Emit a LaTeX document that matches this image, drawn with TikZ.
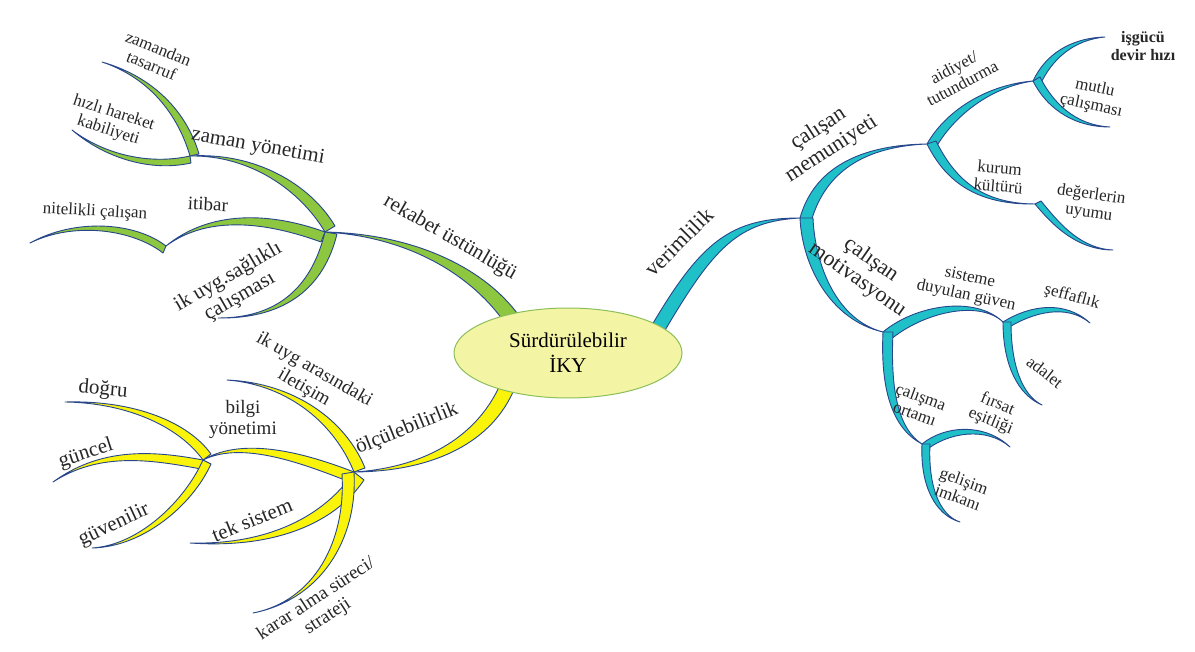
\documentclass[tikz,border=0pt]{standalone}
\usepackage{fontspec}
\setmainfont{Liberation Serif}
\usetikzlibrary{shapes.geometric,calc}
\definecolor{gruen}{RGB}{141,198,63}
\definecolor{gelb}{RGB}{250,244,10}
\definecolor{tuerkis}{RGB}{32,192,200}
\definecolor{rand}{RGB}{40,70,140}
\definecolor{kern}{RGB}{244,244,165}
\definecolor{kernrand}{RGB}{140,190,90}
\tikzset{
  zweig/.style={draw=rand,line width=0.9pt,line join=round},
  lbl/.style={text=black!85,align=center,inner sep=0pt},
  fgross/.style={font=\fontsize{22}{24}\selectfont},
  fhaupt/.style={font=\fontsize{21}{23}\selectfont},
  fmittel/.style={font=\fontsize{19}{21}\selectfont},
  fklein/.style={font=\fontsize{17}{18}\selectfont},
  fmini/.style={font=\fontsize{15}{16}\selectfont}
}
% Ast: Farbe, Start, Kontrollpunkte, Spitze, Dicke am Start
\newcommand{\zweig}[6]{%
  \filldraw[zweig,fill=#1] (#2) .. controls (#3) and (#4) .. (#5)
    .. controls ($(#4)+0.5*(#6)$) and ($(#3)+(#6)$) .. ($(#2)+(#6)$) -- cycle;}
\begin{document}
\begin{tikzpicture}[x=1pt,y=-1pt]
\useasboundingbox (0,0) rectangle (1195,652);
% Knotenpunkte
\coordinate (iky-g) at (522,320); \coordinate (iky-y) at (500,385); \coordinate (iky-v) at (652,325);
\coordinate (g) at (325,232); \coordinate (gz) at (190,156); \coordinate (gi) at (166,246);
\coordinate (y) at (354,472); \coordinate (yb) at (203,460);
\coordinate (v) at (800,218); \coordinate (vm) at (927,144); \coordinate (va) at (1033,81);
\coordinate (vk) at (1035,204); \coordinate (vd) at (883,332); \coordinate (vs) at (1003,322);
\coordinate (vf) at (922,444);
% Spitzen
\coordinate (t-tasarruf) at (102,62); \coordinate (t-hizli) at (72,130);
\coordinate (t-nitelikli) at (30,243); \coordinate (t-saglik) at (218,318);
\coordinate (t-iletisim) at (227,380); \coordinate (t-karar) at (253,613);
\coordinate (t-tek) at (190,543); \coordinate (t-dogru) at (65,402);
\coordinate (t-guncel) at (53,482); \coordinate (t-guven) at (92,548);
\coordinate (t-isgucu) at (1105,37); \coordinate (t-mutlu) at (1110,127);
\coordinate (t-deger) at (1113,250); \coordinate (t-seffaf) at (1090,323);
\coordinate (t-adalet) at (1042,405); \coordinate (t-firsat) at (1010,447);
\coordinate (t-gelisim) at (960,522);
% gruener Ast: rekabet üstünlüğü
\zweig{gruen}{iky-g}{490,272}{420,234}{g}{-15,6}
\zweig{gruen}{g}{300,190}{250,155}{gz}{10,-6}
\zweig{gruen}{gz}{178,115}{150,78}{t-tasarruf}{9,-2}
\zweig{gruen}{gz}{150,165}{105,155}{t-hizli}{1,7}
\zweig{gruen}{g}{270,212}{210,210}{gi}{-4,10}
\zweig{gruen}{gi}{135,222}{75,218}{t-nitelikli}{-3,7}
\zweig{gruen}{g}{312,285}{280,318}{t-saglik}{12,2}
% gelber Ast: ölçülebilirlik
\zweig{gelb}{iky-y}{475,440}{420,468}{y}{13,7}
\zweig{gelb}{y}{335,425}{290,385}{t-iletisim}{11,-4}
\zweig{gelb}{y}{310,455}{245,435}{yb}{-4,10}
\zweig{gelb}{y}{325,515}{270,545}{t-tek}{10,8}
\zweig{gelb}{y}{358,540}{320,600}{t-karar}{-12,2}
\zweig{gelb}{yb}{180,428}{130,403}{t-dogru}{8,-6}
\zweig{gelb}{yb}{150,450}{100,448}{t-guncel}{-2,9}
\zweig{gelb}{yb}{185,500}{140,545}{t-guven}{8,4}
% tuerkiser Ast: verimlilik
\zweig{tuerkis}{iky-v}{702,240}{732,218}{v}{12,7}
\zweig{tuerkis}{v}{812,175}{850,145}{vm}{11,4}
\zweig{tuerkis}{v}{802,265}{830,320}{vd}{13,0}
\zweig{tuerkis}{vm}{945,112}{985,85}{va}{8,5}
\zweig{tuerkis}{vm}{945,180}{975,205}{vk}{9,-3}
\zweig{tuerkis}{va}{1045,55}{1070,38}{t-isgucu}{7,4}
\zweig{tuerkis}{va}{1045,105}{1070,127}{t-mutlu}{7,-4}
\zweig{tuerkis}{vk}{1050,222}{1075,250}{t-deger}{6,-3}
\zweig{tuerkis}{vd}{915,305}{975,295}{vs}{7,8}
\zweig{tuerkis}{vd}{880,395}{895,430}{vf}{10,0}
\zweig{tuerkis}{vs}{1030,305}{1065,300}{t-seffaf}{3,7}
\zweig{tuerkis}{vs}{1003,365}{1018,395}{t-adalet}{8,0}
\zweig{tuerkis}{vf}{945,425}{985,423}{t-firsat}{3,7}
\zweig{tuerkis}{vf}{920,485}{935,515}{t-gelisim}{8,0}
% Mitte
\node[ellipse,draw=kernrand,line width=1pt,fill=kern,minimum width=228pt,minimum height=90pt,
  align=center,font=\fontsize{21}{25}\selectfont] (iky) at (568,353) {Sürdürülebilir\\İKY};
% Beschriftung gruen
\node[lbl,fhaupt,rotate=-30] (rekabet) at (450,238) {rekabet üstünlüğü};
\node[lbl,fhaupt,rotate=-10] (zaman) at (258,147) {zaman yönetimi};
\node[lbl,fklein,rotate=-22] (tasarruf) at (155,57) {zamandan\\tasarruf};
\node[lbl,fklein,rotate=-18] (hizli) at (111,122) {hızlı hareket\\kabiliyeti};
\node[lbl,fmittel,rotate=-3] (itibar) at (208,204) {itibar};
\node[lbl,fklein,rotate=-3] (nitelikli) at (95,212) {nitelikli çalışan};
\node[lbl,fhaupt,rotate=30] (saglik) at (234,287) {ik uyg.sağlıklı\\çalışması};
% Beschriftung gelb
\node[lbl,fhaupt,rotate=22] (olcu) at (407,429) {ölçülebilirlik};
\node[lbl,fmittel,rotate=-30] (iletisim) at (309,379) {ik uyg arasındaki\\iletişim};
\node[lbl,fmittel] (bilgi) at (243,419) {bilgi\\yönetimi};
\node[lbl,fhaupt,rotate=22] (tek) at (252,520) {tek sistem};
\node[lbl,fmittel,rotate=33] (karar) at (322,608) {karar alma süreci/\\strateji};
\node[lbl,fhaupt,rotate=-5] (dogru) at (103,390) {doğru};
\node[lbl,fhaupt,rotate=18] (guncel) at (86,454) {güncel};
\node[lbl,fhaupt,rotate=25] (guven) at (114,525) {güvenilir};
% Beschriftung tuerkis
\node[lbl,fgross,rotate=45] (verim) at (679,242) {verimlilik};
\node[lbl,fgross,rotate=33] (memnun) at (825,139) {çalışan\\memuniyeti};
\node[lbl,fgross,rotate=-35] (motiv) at (864,270) {çalışan\\motivasyonu};
\node[lbl,fklein,rotate=28] (aidiyet) at (958,75) {aidiyet/\\tutundurma};
\node[lbl,fklein,rotate=-5] (kurum) at (999,177) {kurum\\kültürü};
\node[lbl,font=\fontsize{16}{18}\selectfont\bfseries] (isgucu) at (1143,46) {işgücü\\devir hızı};
\node[lbl,fklein,rotate=-12] (mutlu) at (1093,97) {mutlu\\çalışması};
\node[lbl,fklein,rotate=-8] (deger) at (1090,204) {değerlerin\\uyumu};
\node[lbl,fklein,rotate=-12] (sisteme) at (968,287) {sisteme\\duyulan güven};
\node[lbl,fklein,rotate=-15] (seffaf) at (1072,297) {şeffaflık};
\node[lbl,fklein,rotate=-38] (adalet) at (1045,372) {adalet};
\node[lbl,fklein,rotate=-20] (ortam) at (918,405) {çalışma\\ortamı};
\node[lbl,fklein,rotate=-22] (firsat) at (994,413) {fırsat\\eşitliği};
\node[lbl,fklein,rotate=-20] (gelisim) at (961,489) {gelişim\\imkanı};
\end{tikzpicture}
\end{document}
